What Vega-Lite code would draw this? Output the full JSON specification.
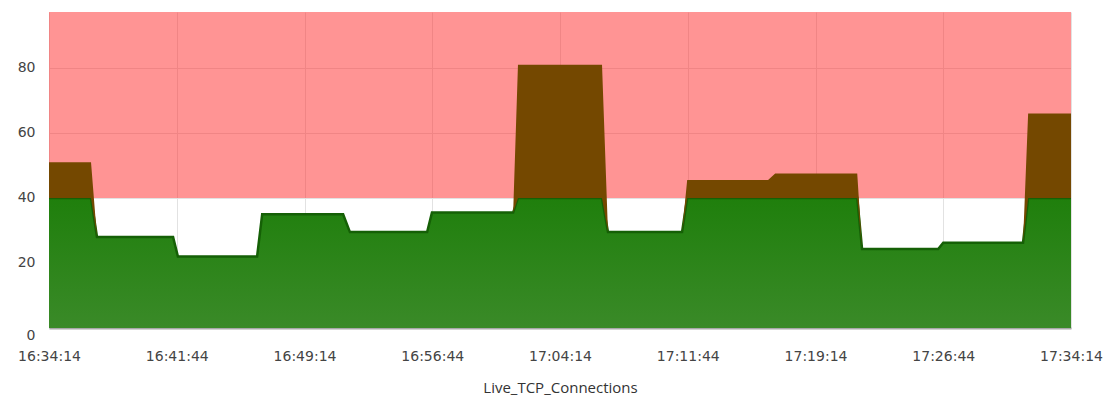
{
  "$schema": "https://vega.github.io/schema/vega-lite/v6.json",
  "width": 1022,
  "height": 316,
  "autosize": {"type": "none"},
  "padding": {"left": 49, "top": 12, "right": 38, "bottom": 91},
  "background": "white",
  "config": {
    "view": {"stroke": null},
    "font": "DejaVu Sans"
  },
  "data": {
    "values": [
      {"t": "2024-01-01T16:34:14", "v": 51, "base": 40},
      {"t": "2024-01-01T16:36:42", "v": 51, "base": 40},
      {"t": "2024-01-01T16:37:03", "v": 28, "base": 28},
      {"t": "2024-01-01T16:41:31", "v": 28, "base": 28},
      {"t": "2024-01-01T16:41:48", "v": 22, "base": 22},
      {"t": "2024-01-01T16:46:27", "v": 22, "base": 22},
      {"t": "2024-01-01T16:46:45", "v": 35, "base": 35},
      {"t": "2024-01-01T16:51:30", "v": 35, "base": 35},
      {"t": "2024-01-01T16:51:54", "v": 29.5, "base": 29.5},
      {"t": "2024-01-01T16:56:26", "v": 29.5, "base": 29.5},
      {"t": "2024-01-01T16:56:43", "v": 35.5, "base": 35.5},
      {"t": "2024-01-01T17:01:29", "v": 35.5, "base": 35.5},
      {"t": "2024-01-01T17:01:46", "v": 81, "base": 40},
      {"t": "2024-01-01T17:06:42", "v": 81, "base": 40},
      {"t": "2024-01-01T17:07:03", "v": 29.5, "base": 29.5},
      {"t": "2024-01-01T17:11:24", "v": 29.5, "base": 29.5},
      {"t": "2024-01-01T17:11:42", "v": 45.5, "base": 40},
      {"t": "2024-01-01T17:16:27", "v": 45.5, "base": 40},
      {"t": "2024-01-01T17:16:52", "v": 47.5, "base": 40},
      {"t": "2024-01-01T17:21:41", "v": 47.5, "base": 40},
      {"t": "2024-01-01T17:21:58", "v": 24.3, "base": 24.3},
      {"t": "2024-01-01T17:26:26", "v": 24.3, "base": 24.3},
      {"t": "2024-01-01T17:26:44", "v": 26.2, "base": 26.2},
      {"t": "2024-01-01T17:31:25", "v": 26.2, "base": 26.2},
      {"t": "2024-01-01T17:31:43", "v": 66, "base": 40},
      {"t": "2024-01-01T17:34:14", "v": 66, "base": 40}
    ]
  },
  "layer": [
    {
      "data": {"values": [{"lo": 40, "hi": 97.2, "a": "2024-01-01T16:34:14", "b": "2024-01-01T17:34:14"}]},
      "mark": {"type": "rect", "color": "#ff2020", "opacity": 0.48},
      "encoding": {
        "x": {
          "field": "a",
          "type": "temporal",
          "scale": {"domain": ["2024-01-01T16:34:14", "2024-01-01T17:34:14"], "nice": false},
          "axis": {
            "title": "Live_TCP_Connections",
            "titleFont": "Open Sans",
            "titleFontSize": 15,
            "titleFontWeight": "normal",
            "titleColor": "#333333",
            "titlePadding": 17,
            "format": "%H:%M:%S",
            "values": [
              "2024-01-01T16:34:14", "2024-01-01T16:41:44", "2024-01-01T16:49:14",
              "2024-01-01T16:56:44", "2024-01-01T17:04:14", "2024-01-01T17:11:44",
              "2024-01-01T17:19:14", "2024-01-01T17:26:44", "2024-01-01T17:34:14"
            ],
            "labelFontSize": 14,
            "labelColor": "#444444",
            "labelPadding": 21,
            "labelFlush": false,
            "labelOverlap": false,
            "ticks": false,
            "domain": true,
            "domainColor": "#a8a8a8",
            "domainWidth": 2,
            "grid": true,
            "gridColor": "#e2e2e2",
            "gridWidth": 1
          }
        },
        "x2": {"field": "b"},
        "y": {
          "field": "lo",
          "type": "quantitative",
          "scale": {"domain": [0, 97.2], "nice": false, "zero": true},
          "axis": {
            "title": null,
            "values": [0, 20, 40, 60, 80],
            "labelFontSize": 14,
            "labelColor": "#444444",
            "labelPadding": 14,
            "labelBaseline": {"condition": {"test": "datum.value == 0", "value": "top"}, "value": "middle"},
            "ticks": false,
            "domain": false,
            "grid": true,
            "gridColor": "#e2e2e2",
            "gridWidth": 1
          }
        },
        "y2": {"field": "hi"}
      }
    },
    {
      "mark": {
        "type": "area",
        "interpolate": "linear",
        "color": {
          "gradient": "linear",
          "x1": 0, "y1": 0, "x2": 0, "y2": 1,
          "stops": [
            {"offset": 0, "color": "#1f7f0c"},
            {"offset": 1, "color": "#3a8a28"}
          ]
        }
      },
      "encoding": {
        "x": {"field": "t", "type": "temporal"},
        "y": {"field": "base", "type": "quantitative"}
      }
    },
    {
      "mark": {"type": "line", "color": "#156006", "strokeWidth": 2.5},
      "encoding": {
        "x": {"field": "t", "type": "temporal"},
        "y": {"field": "base", "type": "quantitative"}
      }
    },
    {
      "mark": {"type": "area", "color": "#744800"},
      "encoding": {
        "x": {"field": "t", "type": "temporal"},
        "y": {"field": "v", "type": "quantitative"},
        "y2": {"field": "base"}
      }
    }
  ]
}
